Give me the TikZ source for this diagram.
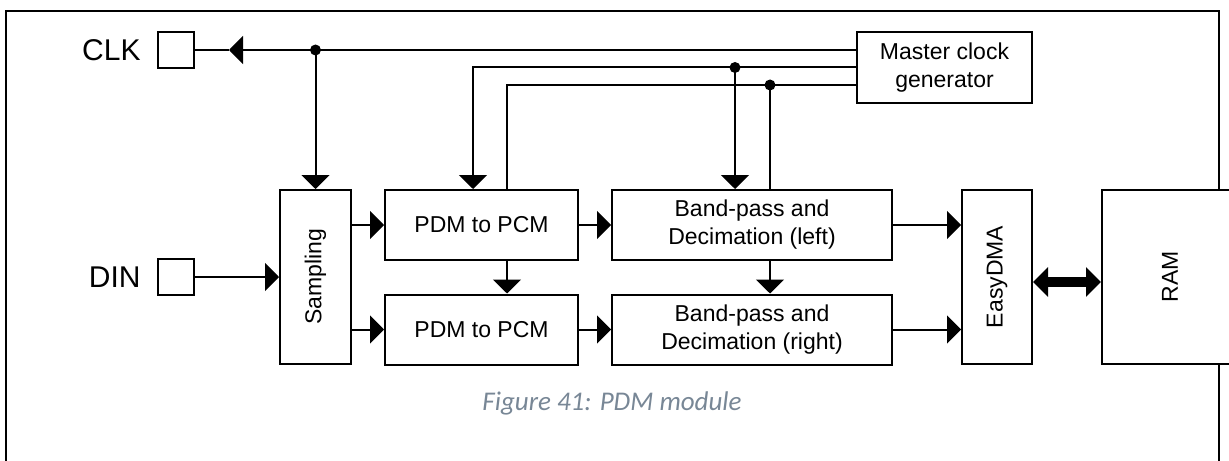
\documentclass[tikz,border=0pt]{standalone}
\usepackage{fontspec}
\setmainfont{Liberation Sans}
\newfontfamily\capfont{Carlito}
\usetikzlibrary{positioning}
\usetikzlibrary{arrows.meta}
\definecolor{capgray}{RGB}{120,135,150}

\tikzset{
  block/.style={draw, line width=1pt, fill=white, inner sep=0pt, align=center, font=\fontsize{11.5}{14}\selectfont},
  pad/.style={draw, line width=1pt, fill=white, minimum size=18pt, inner sep=0pt},
  sig/.style={line width=1pt, -{Triangle[length=7pt,width=14pt]}},
  wire/.style={line width=1pt},
  pinlabel/.style={inner sep=0pt, font=\fontsize{15}{18}\selectfont},
}

\begin{document}
\begin{tikzpicture}[x=0.5pt, y=-0.5pt]
    \useasboundingbox (0,0) rectangle (1229,460);

    % outer frame, open at the bottom
    \draw[wire] (6,470) -- (6,11) -- (1219,11) -- (1219,470);

    \node[pad] (clkpad) at (176,50) {};
    \node[pad] (dinpad) at (176,277) {};
    \node[pinlabel, left=8pt of clkpad] (clklabel) {CLK};
    \node[pinlabel, left=8pt of dinpad] (dinlabel) {DIN};

    \node[block, minimum width=87.5pt, minimum height=35.5pt] (mclk) at (944.5,67.5) {Master clock\\generator};
    \node[block, minimum width=35.5pt, minimum height=87pt] (sampling) at (315.5,277) {\rotatebox{90}{Sampling}};
    \node[block, minimum width=96.5pt, minimum height=35pt] (pdmL) at (481.5,225) {PDM to PCM};
    \node[block, minimum width=96.5pt, minimum height=35pt] (pdmR) at (481.5,329.5) {PDM to PCM};
    \node[block, minimum width=140pt, minimum height=35pt] (bpL) at (752,225) {Band-pass and\\Decimation (left)};
    \node[block, minimum width=140pt, minimum height=35pt] (bpR) at (752,329.5) {Band-pass and\\Decimation (right)};
    \node[block, minimum width=35pt, minimum height=87pt] (easydma) at (997,277) {\rotatebox{90}{EasyDMA}};
    \node[block, minimum width=68pt, minimum height=87pt] (ram) at (1170,277) {\rotatebox{90}{RAM}};

    % clock distribution
    \draw[sig] (mclk.west |- clkpad) -- ([xshift=17pt]clkpad.east);
    \draw[wire] ([xshift=17pt]clkpad.east) -- (clkpad.east);
    \fill (sampling |- clkpad) circle (2.75pt);
    \draw[sig] (sampling |- clkpad) -- (sampling.north);

    \draw[sig] (mclk.west) -| ([xshift=-4.25pt]pdmL.north);
    \fill ([xshift=-8.5pt]bpL.north |- mclk.west) circle (2.75pt);
    \draw[sig] ([xshift=-8.5pt]bpL.north |- mclk.west) -- ([xshift=-8.5pt]bpL.north);

    \coordinate (mclkout) at ([yshift=-8.75pt]mclk.west);
    \draw[wire] (mclkout) -| ([xshift=12.75pt]pdmL.north);
    \fill ([xshift=9pt]bpL.north |- mclkout) circle (2.75pt);
    \draw[wire] ([xshift=9pt]bpL.north |- mclkout) -- ([xshift=9pt]bpL.north);

    % data path
    \draw[sig] (dinpad.east) -- (sampling.west);
    \draw[sig] (sampling.east |- pdmL) -- (pdmL.west);
    \draw[sig] (sampling.east |- pdmR) -- (pdmR.west);
    \draw[sig] (pdmL.east) -- (bpL.west);
    \draw[sig] (pdmR.east) -- (bpR.west);
    \draw[sig] ([xshift=12.75pt]pdmL.south) -- ([xshift=12.75pt]pdmR.north);
    \draw[sig] ([xshift=9pt]bpL.south) -- ([xshift=9pt]bpR.north);
    \draw[sig] (bpL.east) -- (easydma.west |- bpL);
    \draw[sig] (bpR.east) -- (easydma.west |- bpR);
    \draw[line width=5pt, {Triangle[length=7.5pt,width=14.5pt]}-{Triangle[length=7.5pt,width=14.5pt]}] ([yshift=-2.5pt]easydma.east) -- ([yshift=-2.5pt]ram.west);

    \node[font=\capfont\itshape\fontsize{13.5}{16}\selectfont, text=capgray] (caption) at (612,403) {Figure 41: PDM module};
\end{tikzpicture}
\end{document}
